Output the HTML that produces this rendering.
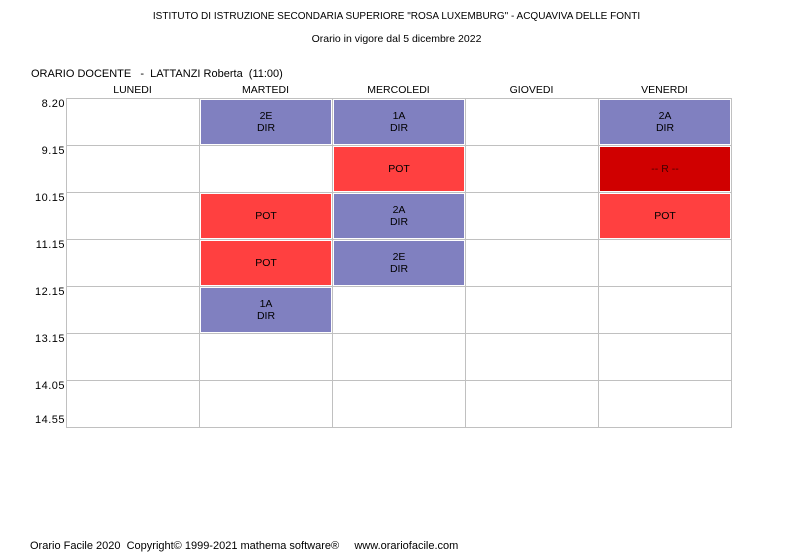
<!DOCTYPE html>
<html><head><meta charset="utf-8"><style>
body{margin:0;width:793px;height:559px;background:#fff;position:relative;font-family:"Liberation Sans",sans-serif;font-size:11px;color:#000;overflow:hidden}
div{position:absolute}
.t{white-space:nowrap}
.h{top:84px;width:133px;text-align:center;font-size:10.5px}
.tm{left:20px;width:45px;text-align:right;letter-spacing:0.5px;top:0}
.vl{top:98px;width:1px;height:330px;background:#c0c0c0}
.hl{left:66px;width:666px;height:1px;background:#c0c0c0}
.c{width:130px;height:44px;display:flex;align-items:center;justify-content:center;text-align:center;line-height:12px;font-size:10.5px}
.b{background:#8080c0}.r{background:#ff4040}.d{background:#d00000}
</style></head><body>
<div class="t" style="left:0;width:793px;top:11px;text-align:center;font-size:10px">ISTITUTO DI ISTRUZIONE SECONDARIA SUPERIORE "ROSA LUXEMBURG" - ACQUAVIVA DELLE FONTI</div>
<div class="t" style="left:0;width:793px;top:33px;text-align:center;font-size:10.5px">Orario in vigore dal 5 dicembre 2022</div>
<div class="t" style="left:31px;top:68px;font-size:11px">ORARIO DOCENTE &nbsp; - &nbsp;LATTANZI Roberta &nbsp;(11:00)</div>
<div class="h" style="left:66px">LUNEDI</div>
<div class="h" style="left:199px">MARTEDI</div>
<div class="h" style="left:332px">MERCOLEDI</div>
<div class="h" style="left:465px">GIOVEDI</div>
<div class="h" style="left:598px">VENERDI</div>
<div class="tm" style="top:98px">8.20</div>
<div class="tm" style="top:145px">9.15</div>
<div class="tm" style="top:192px">10.15</div>
<div class="tm" style="top:239px">11.15</div>
<div class="tm" style="top:286px">12.15</div>
<div class="tm" style="top:333px">13.15</div>
<div class="tm" style="top:380px">14.05</div>
<div class="tm" style="top:414px">14.55</div>
<div class="hl" style="top:98px"></div><div class="hl" style="top:145px"></div><div class="hl" style="top:192px"></div><div class="hl" style="top:239px"></div><div class="hl" style="top:286px"></div><div class="hl" style="top:333px"></div><div class="hl" style="top:380px"></div><div class="hl" style="top:427px"></div>
<div class="vl" style="left:66px"></div><div class="vl" style="left:199px"></div><div class="vl" style="left:332px"></div><div class="vl" style="left:465px"></div><div class="vl" style="left:598px"></div><div class="vl" style="left:731px"></div>
<div class="c b" style="left:201px;top:100px">2E<br>DIR</div>
<div class="c b" style="left:334px;top:100px">1A<br>DIR</div>
<div class="c b" style="left:600px;top:100px">2A<br>DIR</div>
<div class="c r" style="left:334px;top:147px">POT</div>
<div class="c d" style="left:600px;top:147px;color:#400"><span style="position:static;white-space:pre">-- R --</span></div>
<div class="c r" style="left:201px;top:194px">POT</div>
<div class="c b" style="left:334px;top:194px">2A<br>DIR</div>
<div class="c r" style="left:600px;top:194px">POT</div>
<div class="c r" style="left:201px;top:241px">POT</div>
<div class="c b" style="left:334px;top:241px">2E<br>DIR</div>
<div class="c b" style="left:201px;top:288px">1A<br>DIR</div>
<div class="t" style="left:30px;top:540px;font-size:11px">Orario Facile 2020 &nbsp;Copyright© 1999-2021 mathema software® &nbsp; &nbsp; www.orariofacile.com</div>
</body></html>
